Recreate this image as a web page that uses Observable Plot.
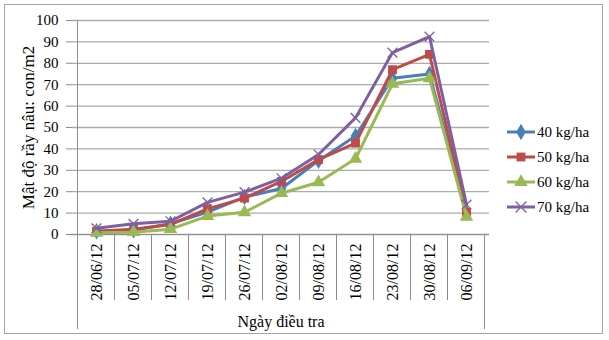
<!DOCTYPE html>
<html><head><meta charset="utf-8">
<script src="https://cdn.jsdelivr.net/npm/d3@7"></script>
<script src="https://cdn.jsdelivr.net/npm/@observablehq/plot@0.6"></script>
<style>
body{margin:0;background:#fff;}
#wrap{position:relative;width:609px;height:340px;font-family:"Liberation Serif","Times New Roman",serif;}
#frame{position:absolute;left:4px;top:4px;width:599px;height:330px;border:1px solid #a6a6a6;box-sizing:border-box}
#chart{position:absolute;left:0;top:0}
#legend{position:absolute;left:500px;top:118px;overflow:visible}
</style></head><body>
<div id="wrap"><div id="frame"></div><div id="chart"></div><svg id="legend" width="105" height="105"></svg></div>
<script>
const categories = ["28/06/12","05/07/12","12/07/12","19/07/12","26/07/12","02/08/12","09/08/12","16/08/12","23/08/12","30/08/12","06/09/12"];
const seriesNames = ["40 kg/ha","50 kg/ha","60 kg/ha","70 kg/ha"];
const s40 = [1.5, 2.0, 5.0, 10.5, 17.5, 21.5, 34.5, 46.0, 73.0, 75.0, 10.0];
const s50 = [1.5, 2.5, 4.7, 12.0, 17.0, 24.8, 35.0, 42.7, 77.0, 84.2, 10.4];
const s60 = [0.8, 1.1, 2.5, 8.6, 10.4, 19.3, 24.4, 35.4, 70.4, 73.0, 8.2];
const s70 = [2.9, 5.0, 6.2, 15.0, 19.8, 26.3, 37.4, 54.5, 85.0, 92.5, 14.0];
const yTicks = [0,10,20,30,40,50,60,70,80,90,100];
const colors = ["#4a7ebb","#be4b48","#98b954","#7d60a0"];
const symbols = ["diamond","square","triangle","times"];
const seriesValues = [s40, s50, s60, s70];

const data = seriesNames.flatMap((name, k) => categories.map((c, i) => ({date: c, value: seriesValues[k][i], series: name})));

const innerDepth = 66, outerDepth = 95;
function table(index, scales, values, dims) {
  const x = scales.x, y = scales.y;
  const step = x(categories[1]) - x(categories[0]);
  const y0 = y(0), top = y(100);
  const g = d3.create("svg:g").attr("stroke", "#8c8c8c").attr("stroke-width", 1).attr("fill", "none");
  categories.forEach((c, i) => {
    const left = x(c) - step / 2;
    if (i === 0) g.append("line").attr("x1", left).attr("x2", left).attr("y1", top).attr("y2", y0 + outerDepth);
    else g.append("line").attr("x1", left).attr("x2", left).attr("y1", y0).attr("y2", y0 + innerDepth);
  });
  const right = x(categories[categories.length - 1]) + step / 2;
  g.append("line").attr("x1", right).attr("x2", right).attr("y1", y0).attr("y2", y0 + outerDepth);
  return g.node();
}

const marks = [
  Plot.gridY({ticks: yTicks, stroke: "#ababab", strokeOpacity: 1, strokeWidth: 1.3}),
  Plot.axisY({ticks: yTicks, tickSize: 6, tickPadding: 8, stroke: "#8c8c8c", fontSize: 15, label: null}),
  Plot.axisY({ticks: [], label: "Mật độ rầy nâu: con/m2", labelAnchor: "center", labelOffset: 51, labelArrow: "none", fontSize: 17}),
  Plot.axisX({tickSize: 0, tickRotate: -90, tickPadding: 9, fontSize: 16, label: null}),
  Plot.axisX({ticks: [], label: "Ngày điều tra", labelAnchor: "center", labelOffset: 92, labelArrow: "none", fontSize: 16}),
  Plot.ruleY([0], {stroke: "#8c8c8c"}),
  table
];
seriesNames.forEach((name, k) => {
  const d = data.filter(r => r.series === name);
  marks.push(Plot.line(d, {x: "date", y: "value", stroke: colors[k], strokeWidth: 3}));
  if (symbols[k] === "times")
    marks.push(Plot.dot(d, {x: "date", y: "value", symbol: "times", r: 4.5, stroke: colors[k], strokeWidth: 1.3}));
  else
    marks.push(Plot.dot(d, {x: "date", y: "value", symbol: symbols[k], r: 5, fill: colors[k], stroke: "none"}));
});

const chart = Plot.plot({
  width: 609, height: 340,
  marginLeft: 72, marginRight: 120, marginTop: 20, marginBottom: 106,
  style: {fontFamily: "'Liberation Serif','Times New Roman',serif", color: "#000", background: "transparent", overflow: "visible"},
  x: {type: "point", domain: categories, padding: 0.5, align: 0.5},
  y: {domain: [0, 100]},
  marks
});
document.getElementById("chart").appendChild(chart);

// legend
const leg = d3.select("#legend");
const rowGap = 25;
seriesNames.forEach((name, k) => {
  const g = leg.append("g").attr("transform", `translate(0,${14 + k * rowGap})`);
  g.append("line").attr("x1", 7).attr("x2", 35).attr("y1", 0).attr("y2", 0).attr("stroke", colors[k]).attr("stroke-width", 3);
  const typ = {diamond: d3.symbolDiamond, square: d3.symbolSquare, triangle: d3.symbolTriangle, times: d3.symbolTimes}[symbols[k]];
  const p = g.append("path").attr("transform", "translate(21,0)").attr("d", d3.symbol(typ, 25 * Math.PI)());
  if (symbols[k] === "times") p.attr("fill", "none").attr("stroke", colors[k]).attr("stroke-width", 1.3);
  else p.attr("fill", colors[k]);
  g.append("text").attr("x", 37).attr("y", 0).attr("dy", "0.35em").attr("font-size", 15).attr("fill", "#000").text(name);
});
</script>
</body></html>
